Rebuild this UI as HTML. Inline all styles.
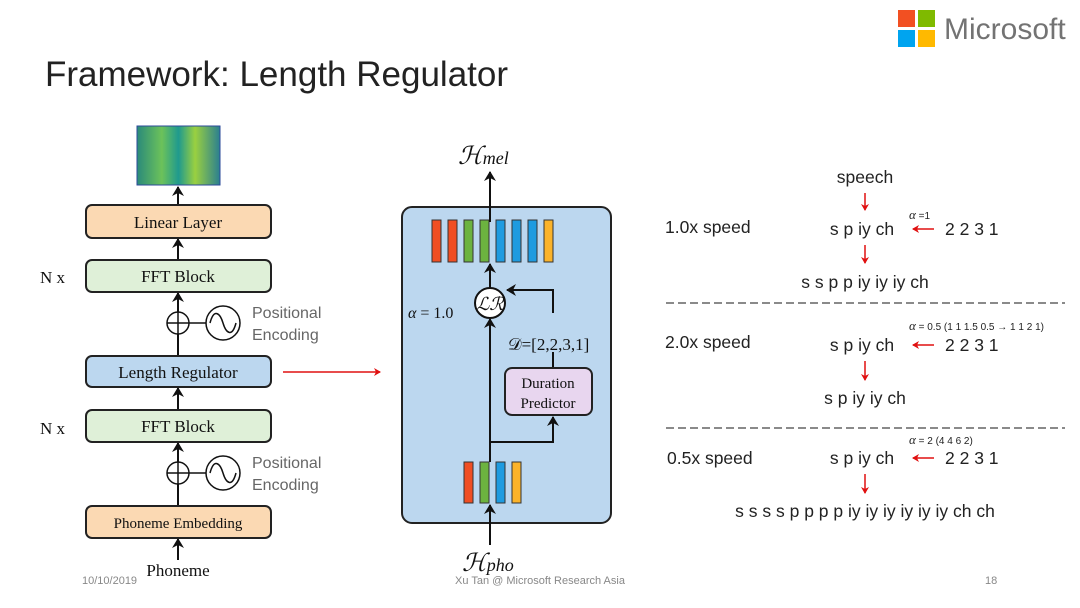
<!DOCTYPE html>
<html><head><meta charset="utf-8"><style>
body{margin:0;background:#fff}
svg{display:block}
.s{font-family:"Liberation Serif",serif;fill:#111}
.a{font-family:"Liberation Sans",sans-serif}
</style></head><body>
<svg width="1080" height="608" viewBox="0 0 1080 608" xmlns="http://www.w3.org/2000/svg">
<defs>
<marker id="ah" markerWidth="12" markerHeight="12" refX="9" refY="6" orient="auto" markerUnits="userSpaceOnUse"><path d="M0,0 L10,6 L0,12 L3,6z" fill="#111"/></marker>
<marker id="rh" markerWidth="8" markerHeight="8" refX="6" refY="4" orient="auto" markerUnits="userSpaceOnUse"><path d="M0,0 L7,4 L0,8 L2,4z" fill="#e01010"/></marker>
<linearGradient id="sp" x1="0" x2="1"><stop offset="0" stop-color="#2a8a7a"/><stop offset=".3" stop-color="#6cc25a"/><stop offset=".5" stop-color="#1f9a8e"/><stop offset=".7" stop-color="#9ad040"/><stop offset="1" stop-color="#2a7f90"/></linearGradient>
</defs>
<!-- Logo -->
<rect x="898" y="10" width="17" height="17" fill="#f25022"/><rect x="918" y="10" width="17" height="17" fill="#7fba00"/>
<rect x="898" y="30" width="17" height="17" fill="#00a4ef"/><rect x="918" y="30" width="17" height="17" fill="#ffb900"/>
<text x="944" y="39" class="a" font-size="30" fill="#737373">Microsoft</text>
<text x="45" y="86" class="a" font-size="35" fill="#222">Framework: Length Regulator</text>

<!-- Left column -->
<rect x="137" y="126" width="83" height="59" fill="url(#sp)"/>
<rect x="137" y="126" width="83" height="59" fill="none" stroke="#2b4a9a" stroke-width="1"/>
<g stroke="#111" stroke-width="2" fill="none">
<line x1="178" y1="205" x2="178" y2="187" marker-end="url(#ah)"/>
<line x1="178" y1="260" x2="178" y2="239" marker-end="url(#ah)"/>
<line x1="178" y1="356" x2="178" y2="293" marker-end="url(#ah)"/>
<line x1="178" y1="410" x2="178" y2="388" marker-end="url(#ah)"/>
<line x1="178" y1="506" x2="178" y2="443" marker-end="url(#ah)"/>
<line x1="178" y1="560" x2="178" y2="539" marker-end="url(#ah)"/>
</g>
<g stroke="#111" stroke-width="1.5" fill="#fff">
<circle cx="178" cy="323" r="11"/><circle cx="178" cy="473" r="11"/>
<circle cx="223" cy="323" r="17"/><circle cx="223" cy="473" r="17"/>
</g>
<g stroke="#111" stroke-width="1.5" fill="none">
<line x1="167" y1="323" x2="189" y2="323"/><line x1="178" y1="312" x2="178" y2="334"/>
<line x1="167" y1="473" x2="189" y2="473"/><line x1="178" y1="462" x2="178" y2="484"/>
<line x1="189" y1="323" x2="206" y2="323"/><line x1="189" y1="473" x2="206" y2="473"/>
<path d="M210,323 C214,308 220,313 223,323 C226,333 232,338 236,323"/>
<path d="M210,473 C214,458 220,463 223,473 C226,483 232,488 236,473"/>
</g>
<g stroke="#222" stroke-width="2">
<rect x="86" y="205" width="185" height="33" rx="6" fill="#fbd9b3"/>
<rect x="86" y="260" width="185" height="32" rx="6" fill="#dff0d8"/>
<rect x="86" y="356" width="185" height="31" rx="6" fill="#bcd7ef"/>
<rect x="86" y="410" width="185" height="32" rx="6" fill="#dff0d8"/>
<rect x="86" y="506" width="185" height="32" rx="6" fill="#fbd9b3"/>
</g>
<g class="s" font-size="17" text-anchor="middle">
<text x="178" y="228">Linear Layer</text>
<text x="178" y="282">FFT Block</text>
<text x="178" y="378">Length Regulator</text>
<text x="178" y="432">FFT Block</text>
<text x="178" y="528" font-size="15">Phoneme Embedding</text>
<text x="178" y="576">Phoneme</text>
</g>
<text x="40" y="283" class="s" font-size="17">N x</text>
<text x="40" y="434" class="s" font-size="17">N x</text>
<g class="a" font-size="16" fill="#666">
<text x="252" y="318">Positional</text><text x="252" y="340">Encoding</text>
<text x="252" y="468">Positional</text><text x="252" y="490">Encoding</text>
</g>
<line x1="283" y1="372" x2="380" y2="372" stroke="#e01010" stroke-width="1.5" marker-end="url(#rh)"/>

<!-- Middle -->
<rect x="402" y="207" width="209" height="316" rx="10" fill="#bcd7ef" stroke="#222" stroke-width="2"/>
<g stroke="#333" stroke-width="1">
<rect x="432" y="220" width="9" height="42" fill="#f04e23"/>
<rect x="448" y="220" width="9" height="42" fill="#f04e23"/>
<rect x="464" y="220" width="9" height="42" fill="#6cb33f"/>
<rect x="480" y="220" width="9" height="42" fill="#6cb33f"/>
<rect x="496" y="220" width="9" height="42" fill="#1e9be0"/>
<rect x="512" y="220" width="9" height="42" fill="#1e9be0"/>
<rect x="528" y="220" width="9" height="42" fill="#1e9be0"/>
<rect x="544" y="220" width="9" height="42" fill="#fbb32a"/>
<rect x="464" y="462" width="9" height="41" fill="#f04e23"/>
<rect x="480" y="462" width="9" height="41" fill="#6cb33f"/>
<rect x="496" y="462" width="9" height="41" fill="#1e9be0"/>
<rect x="512" y="462" width="9" height="41" fill="#fbb32a"/>
</g>
<g stroke="#111" stroke-width="2" fill="none">
<line x1="490" y1="222" x2="490" y2="172" marker-end="url(#ah)"/>
<line x1="490" y1="288" x2="490" y2="264" marker-end="url(#ah)"/>
<line x1="490" y1="462" x2="490" y2="319" marker-end="url(#ah)"/>
<line x1="490" y1="545" x2="490" y2="505" marker-end="url(#ah)"/>
<polyline points="490,442 553,442 553,417" marker-end="url(#ah)"/>
<polyline points="553,313 553,290 507,290" marker-end="url(#ah)"/>
<line x1="553" y1="352" x2="553" y2="368"/>
</g>
<circle cx="490" cy="303" r="15" fill="#fff" stroke="#111" stroke-width="2"/>
<text x="490" y="310" class="s" font-size="18" font-style="italic" text-anchor="middle">ℒℛ</text>
<text x="408" y="318" class="s" font-size="16"><tspan font-style="italic">α</tspan> = 1.0</text>
<text x="508" y="350" class="s" font-size="17">𝒟=[2,2,3,1]</text>
<rect x="505" y="368" width="87" height="47" rx="7" fill="#e8d6ef" stroke="#222" stroke-width="2"/>
<text x="548" y="388" class="s" font-size="15" text-anchor="middle">Duration</text>
<text x="548" y="408" class="s" font-size="15" text-anchor="middle">Predictor</text>
<text x="458" y="164" class="s" font-size="25" font-style="italic">ℋ<tspan font-size="18">mel</tspan></text>
<text x="462" y="571" class="s" font-size="25" font-style="italic">ℋ<tspan font-size="18">pho</tspan></text>

<!-- Right -->
<g class="a" font-size="17.5" fill="#222">
<text x="865" y="183" text-anchor="middle">speech</text>
<text x="665" y="233">1.0x speed</text>
<text x="862" y="235" text-anchor="middle">s p iy ch</text>
<text x="945" y="235">2 2 3 1</text>
<text x="865" y="288" text-anchor="middle">s s p p iy iy iy ch</text>
<text x="665" y="348">2.0x speed</text>
<text x="862" y="351" text-anchor="middle">s p iy ch</text>
<text x="945" y="351">2 2 3 1</text>
<text x="865" y="404" text-anchor="middle">s p iy iy ch</text>
<text x="667" y="464">0.5x speed</text>
<text x="862" y="464" text-anchor="middle">s p iy ch</text>
<text x="945" y="464">2 2 3 1</text>
<text x="865" y="517" text-anchor="middle">s s s s p p p p iy iy iy iy iy iy ch ch</text>
</g>
<g class="a" font-size="10" fill="#222">
<text x="909" y="219"><tspan font-style="italic" font-family="Liberation Serif" font-size="13">α</tspan> =1</text>
<text x="909" y="330"><tspan font-style="italic" font-family="Liberation Serif" font-size="13">α</tspan> = 0.5 (1 1 1.5 0.5 → 1 1 2 1)</text>
<text x="909" y="444"><tspan font-style="italic" font-family="Liberation Serif" font-size="13">α</tspan> = 2 (4 4 6 2)</text>
</g>
<g stroke="#e01010" stroke-width="1.5">
<line x1="865" y1="193" x2="865" y2="210" marker-end="url(#rh)"/>
<line x1="865" y1="245" x2="865" y2="263" marker-end="url(#rh)"/>
<line x1="865" y1="361" x2="865" y2="380" marker-end="url(#rh)"/>
<line x1="865" y1="474" x2="865" y2="493" marker-end="url(#rh)"/>
<line x1="934" y1="229" x2="913" y2="229" marker-end="url(#rh)"/>
<line x1="934" y1="345" x2="913" y2="345" marker-end="url(#rh)"/>
<line x1="934" y1="458" x2="913" y2="458" marker-end="url(#rh)"/>
</g>
<g stroke="#444" stroke-width="1.2" stroke-dasharray="8,4">
<line x1="666" y1="303" x2="1065" y2="303"/>
<line x1="666" y1="428" x2="1065" y2="428"/>
</g>

<!-- Footer -->
<g class="a" font-size="11" fill="#888">
<text x="82" y="584">10/10/2019</text>
<text x="540" y="584" text-anchor="middle">Xu Tan @ Microsoft Research Asia</text>
<text x="985" y="584">18</text>
</g>
</svg>
</body></html>
